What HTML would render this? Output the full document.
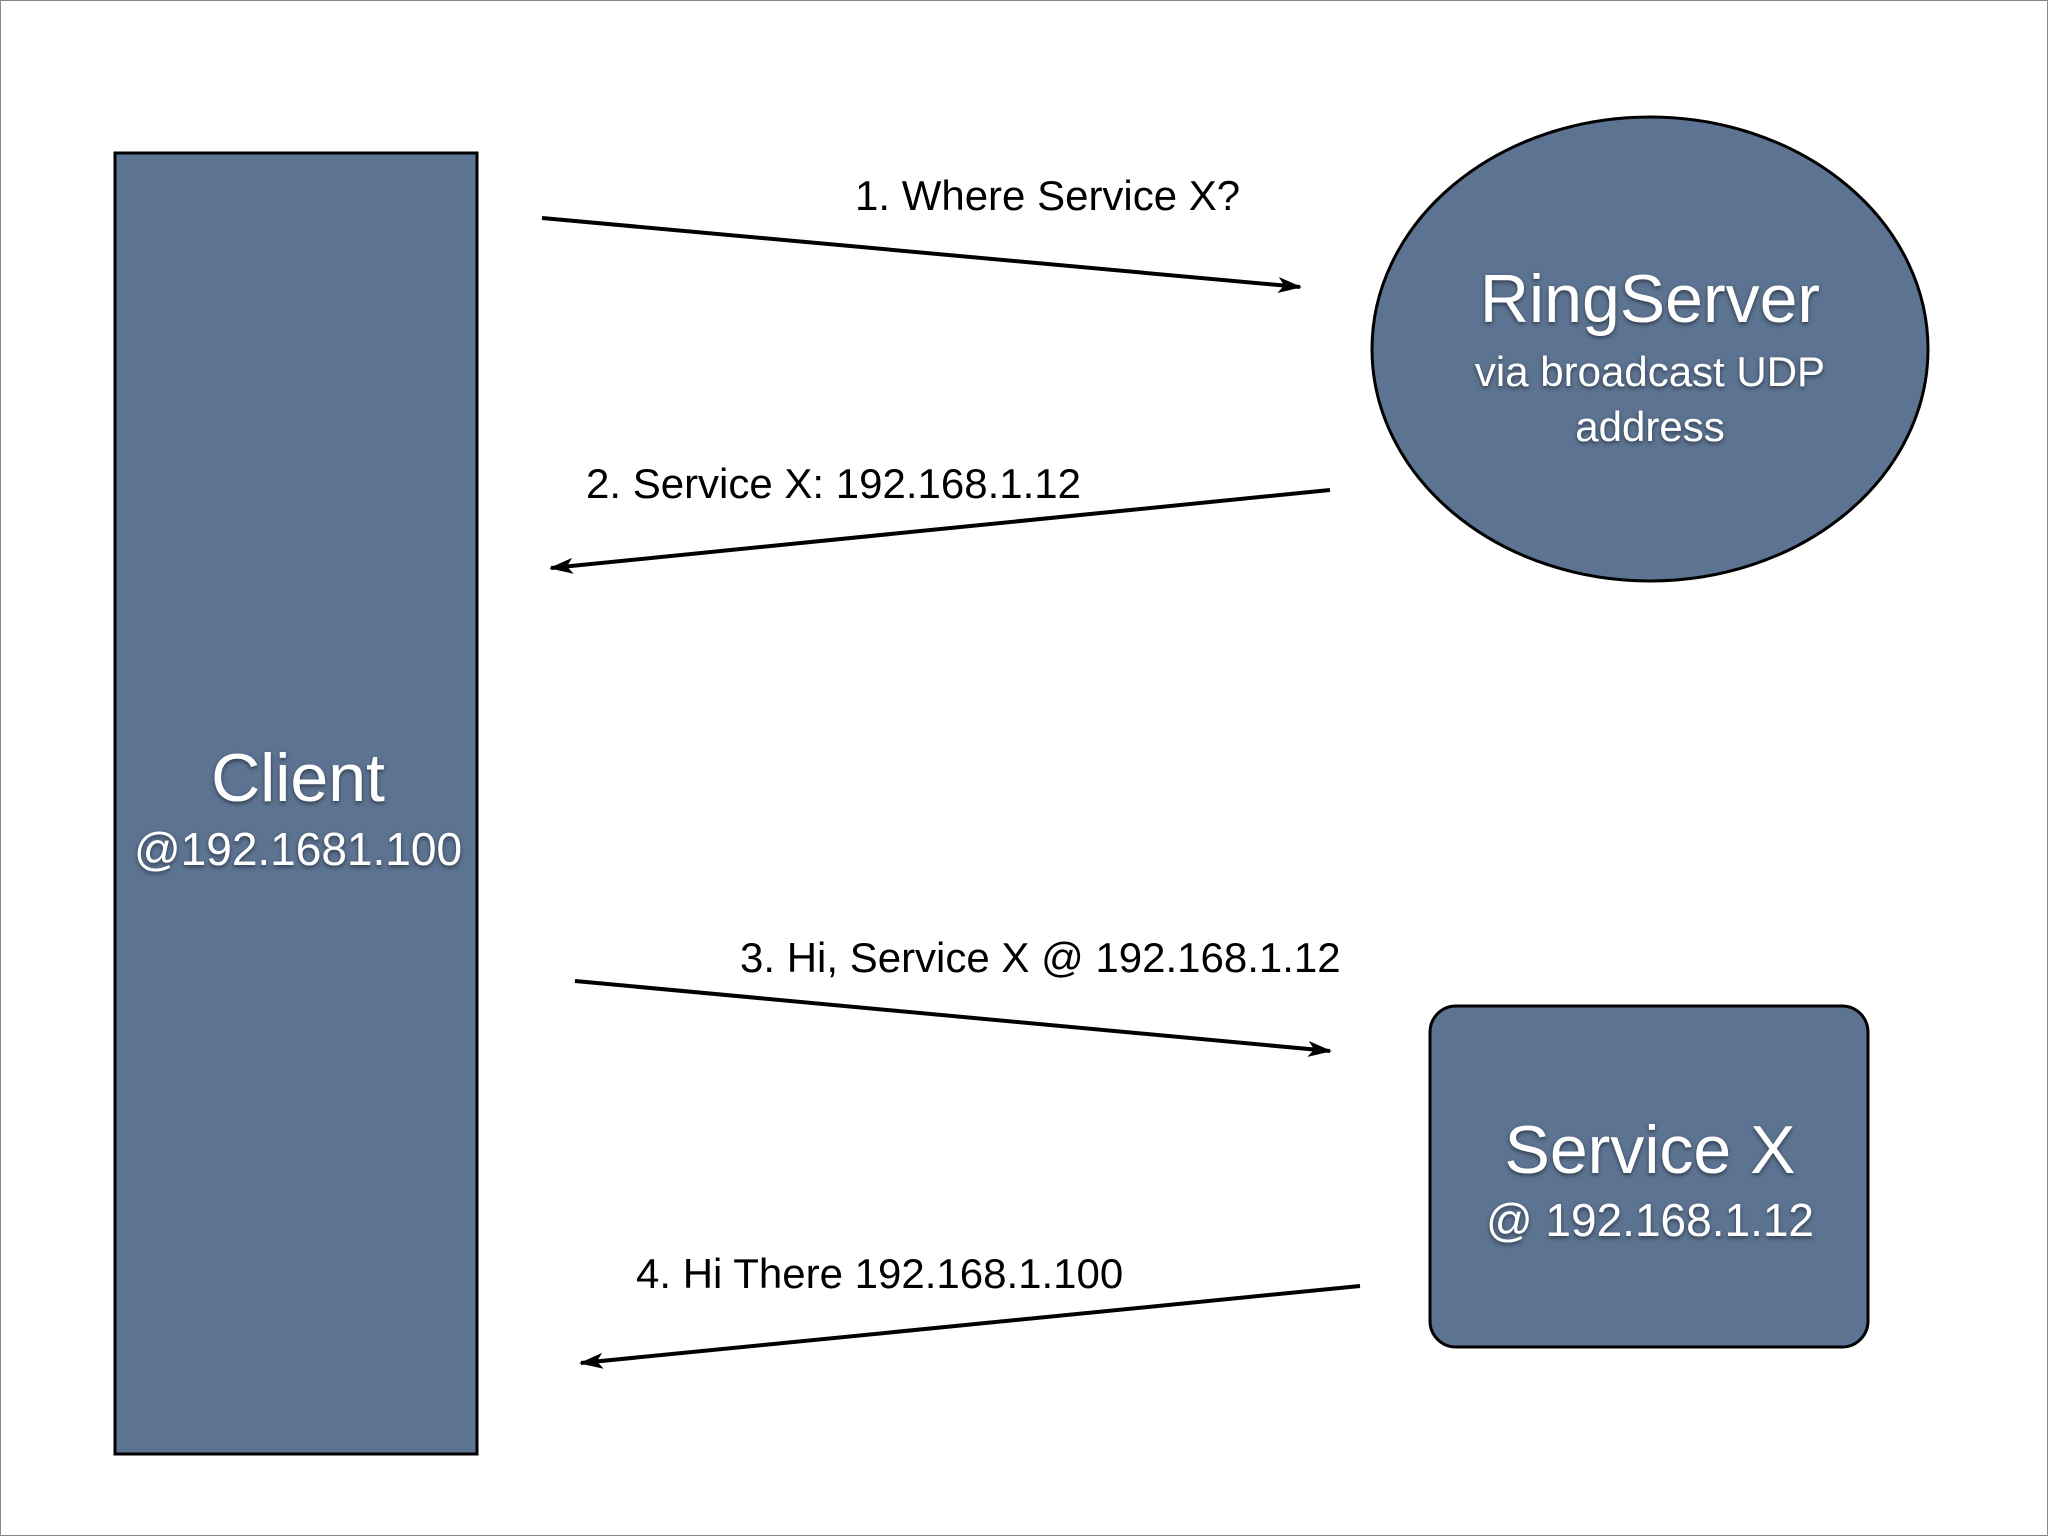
<!DOCTYPE html>
<html><head><meta charset="utf-8"><style>
html,body{margin:0;padding:0;background:#fff;}
svg{display:block;}
text{font-family:"Liberation Sans",sans-serif;}
</style></head><body>
<svg width="2048" height="1536" viewBox="0 0 2048 1536" xmlns="http://www.w3.org/2000/svg">
<defs>
<marker id="ah" markerWidth="24" markerHeight="16" refX="22" refY="8" orient="auto" markerUnits="userSpaceOnUse">
<path d="M0,0 L24,8 L0,16 L6,8 z" fill="#000"/>
</marker>
<filter id="sh" x="-10%" y="-10%" width="120%" height="130%"><feDropShadow dx="0" dy="2" stdDeviation="2" flood-color="#000" flood-opacity="0.5"/></filter>
</defs>
<rect x="0.5" y="0.5" width="2047" height="1535" fill="#fff" stroke="#888" stroke-width="1"/>
<rect x="115" y="153" width="362" height="1301" fill="#5c7391" stroke="#000" stroke-width="3"/>
<ellipse cx="1650" cy="349" rx="278" ry="232" fill="#5c7391" stroke="#000" stroke-width="3"/>
<rect x="1430" y="1006" width="438" height="341" rx="26" ry="26" fill="#5c7391" stroke="#000" stroke-width="3"/>
<g stroke="#000" stroke-width="4" marker-end="url(#ah)">
<line x1="542" y1="218" x2="1300" y2="287"/>
<line x1="1330" y1="490" x2="551" y2="568"/>
<line x1="575" y1="981" x2="1330" y2="1051"/>
<line x1="1360" y1="1286" x2="581" y2="1363"/>
</g>
<g fill="#000" font-size="42">
<text x="855" y="210">1. Where Service X?</text>
<text x="586" y="498">2. Service X: 192.168.1.12</text>
<text x="740" y="972">3. Hi, Service X @ 192.168.1.12</text>
<text x="636" y="1288">4. Hi There 192.168.1.100</text>
</g>
<g fill="#fff" text-anchor="middle" filter="url(#sh)">
<text x="298" y="801" font-size="68">Client</text>
<text x="298" y="865" font-size="46">@192.1681.100</text>
<text x="1650" y="322" font-size="68">RingServer</text>
<text x="1650" y="386" font-size="42">via broadcast UDP</text>
<text x="1650" y="441" font-size="42">address</text>
<text x="1650" y="1173" font-size="68">Service X</text>
<text x="1650" y="1236" font-size="46">@ 192.168.1.12</text>
</g>
</svg>
</body></html>
